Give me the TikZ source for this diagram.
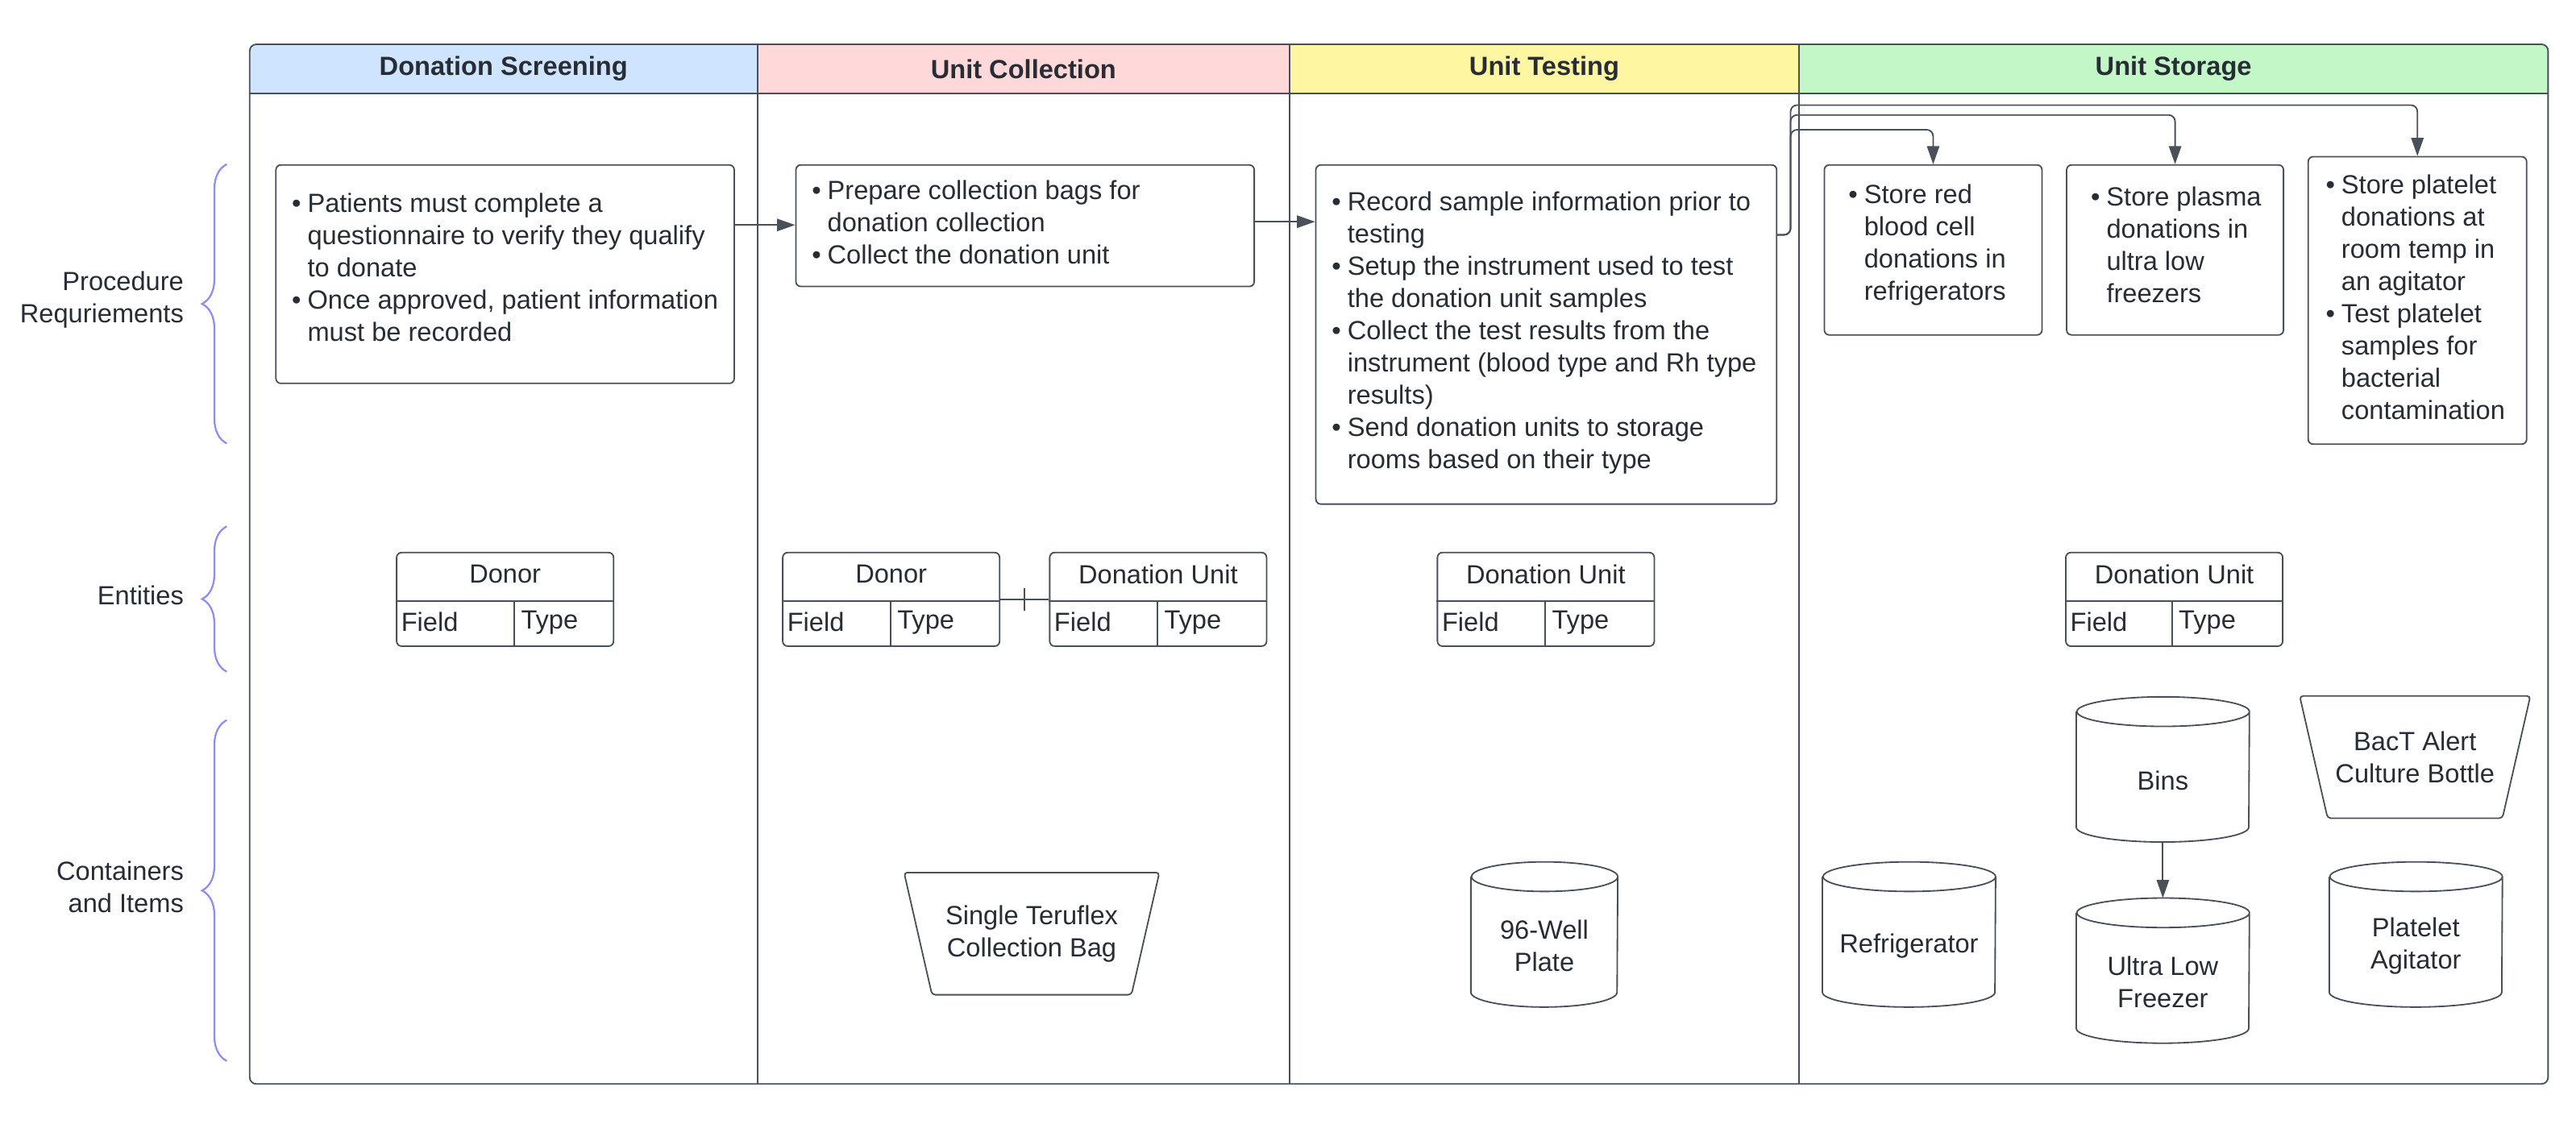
\documentclass[tikz,border=0pt]{standalone}
\usepackage{fontspec}
\setmainfont{Liberation Sans}
\usetikzlibrary{arrows.meta, decorations.pathreplacing}

\definecolor{ink}{HTML}{282D35}
\definecolor{edge}{HTML}{4A5059}
\definecolor{screenfill}{HTML}{CFE4FF}
\definecolor{collectfill}{HTML}{FFD9D9}
\definecolor{testfill}{HTML}{FFF6A1}
\definecolor{storefill}{HTML}{C3F7C8}
\definecolor{bracecol}{HTML}{8F8CF2}

\newcommand{\boxfont}{\fontsize{16}{19.6}\selectfont}
\newcommand{\bpt}{\makebox[9.5pt][l]{\textbullet}}
\newcommand{\bgap}{\hspace*{9.5pt}}

% entity table: name, top left, title, width of the field column
\newcommand{\entbox}[4]{%
  \node[entity] (#1) at (#2) {};
  \node[cell, anchor=center] (#1-title) at ([yshift=-13.5pt]#1.north) {#3};
  \draw[edgeline] ([yshift=28pt]#1.south west) -- ([yshift=28pt]#1.south east);
  \draw[edgeline] ([xshift=#4pt]#1.south west) -- ([xshift=#4pt, yshift=28pt]#1.south west);
  \node[cell] (#1-field) at ([xshift=3pt, yshift=15pt]#1.south west) {Field};
  \node[cell] (#1-type) at ([xshift=#4pt+4pt, yshift=15pt]#1.south west) {Type};
}
% cylinder: name, centre, width, text
\newcommand{\drumnode}[4]{%
  \node[drum, minimum width=#3pt] (#1) at (#2) {};
  \draw[edgeline] ([yshift=-9pt]#1.north west) -- ([yshift=9pt]#1.south west)
    arc[start angle=180, end angle=360, x radius=#3pt/2, y radius=9pt]
    -- ([yshift=-9pt]#1.north east)
    arc[start angle=0, end angle=360, x radius=#3pt/2, y radius=9pt];
  \node[drumlabel] (#1-label) at ([yshift=-7pt]#1.center) {#4};
}
% bag: name, centre, width, text
\newcommand{\bagnode}[4]{%
  \node[bag, minimum width=#3pt] (#1) at (#2) {#4};
  \draw[edgeline, rounded corners=2pt] (#1.north west) -- (#1.north east)
    -- ([xshift=-17pt]#1.south east) -- ([xshift=17pt]#1.south west) -- cycle;
}

\begin{document}
\begin{tikzpicture}[x=1pt, y=-1pt, >={Triangle[length=11pt, width=7.5pt]},
  every node/.style={font=\boxfont, text=ink},
  edgeline/.style={draw=edge, line width=0.9pt},
  flow/.style={edgeline, ->},
  lanehead/.style={minimum height=30pt, inner sep=0pt, font=\boxfont\bfseries},
  procbox/.style={edgeline, rounded corners=3pt, anchor=north west, inner sep=0pt},
  proctext/.style={anchor=west, align=left, inner sep=0pt, yshift=2pt},
  entity/.style={edgeline, rounded corners=3pt, anchor=north west, minimum width=132pt, minimum height=57pt, inner sep=0pt},
  cell/.style={anchor=west, inner sep=0pt},
  drum/.style={minimum height=88pt, inner sep=0pt},
  drumlabel/.style={align=center, inner sep=0pt},
  bag/.style={minimum height=74pt, inner sep=0pt, align=center},
  sidelabel/.style={anchor=east, align=right, inner sep=0pt},
  curly/.style={draw=bracecol, line width=1.1pt, decorate, decoration={brace, amplitude=15pt}}]
\useasboundingbox (0,0) rectangle (1568,684);

% Lanes
\begin{scope}
  \clip[rounded corners=4pt] (152,27) rectangle (1551,660);
  \node[lanehead, fill=screenfill, minimum width=309pt] (hscreen) at (306.5,42) {Donation Screening};
  \node[lanehead, fill=collectfill, minimum width=324pt] (hcollect) at (623,42) {Unit Collection};
  \node[lanehead, fill=testfill, minimum width=310pt] (htest) at (940,42) {Unit Testing};
  \node[lanehead, fill=storefill, minimum width=456pt] (hstore) at (1323,42) {Unit Storage};
\end{scope}
\draw[edgeline, rounded corners=4pt] (152,27) rectangle (1551,660);
\draw[edgeline] (152,57) -- (1551,57);
\foreach \x in {461,785,1095}
  \draw[edgeline] (\x,27) -- (\x,660);

% Row labels
\node[sidelabel] (lproc) at (112,182.5) {Procedure\\Requriements};
\node[sidelabel] (lent) at (112,362.5) {Entities};
\node[sidelabel] (lcont) at (112,540) {Containers\\and Items};
\draw[curly] (138,270) -- (138,100);
\draw[curly] (138,409) -- (138,320.5);
\draw[curly] (138,646) -- (138,438.5);

% Procedure requirements
\node[procbox, minimum width=279pt, minimum height=133pt] (scrbox) at (167.5,100) {};
\node[proctext, yshift=2pt] (scrtext) at ([xshift=10pt]scrbox.west) {\bpt Patients must complete a\\
  \bgap questionnaire to verify they qualify\\ \bgap to donate\\
  \bpt Once approved, patient information\\ \bgap must be recorded};
\node[procbox, minimum width=279pt, minimum height=74pt] (collbox) at (484,100) {};
\node[proctext] (colltext) at ([xshift=10pt]collbox.west) {\bpt Prepare collection bags for\\
  \bgap donation collection\\ \bpt Collect the donation unit};
\node[procbox, minimum width=280.5pt, minimum height=206.5pt] (testbox) at (800.5,100) {};
\node[proctext, yshift=-1pt] (testtext) at ([xshift=10pt]testbox.west) {\bpt Record sample information prior to\\
  \bgap testing\\ \bpt Setup the instrument used to test\\ \bgap the donation unit samples\\
  \bpt Collect the test results from the\\ \bgap instrument (blood type and Rh type\\
  \bgap results)\\ \bpt Send donation units to storage\\ \bgap rooms based on their type};
\node[procbox, minimum width=132.5pt, minimum height=103.5pt] (redbox) at (1110,100) {};
\node[proctext, yshift=1pt] (redtext) at ([xshift=15pt]redbox.west) {\bpt Store red\\ \bgap blood cell\\
  \bgap donations in\\ \bgap refrigerators};
\node[procbox, minimum width=132pt, minimum height=103.5pt] (plasmabox) at (1257.5,100) {};
\node[proctext, yshift=1pt] (plasmatext) at ([xshift=15pt]plasmabox.west) {\bpt Store plasma\\ \bgap donations in\\
  \bgap ultra low\\ \bgap freezers};
\node[procbox, minimum width=133pt, minimum height=175pt] (platebox) at (1404.5,95) {};
\node[proctext] (platetext) at ([xshift=11pt]platebox.west) {\bpt Store platelet\\ \bgap donations at\\
  \bgap room temp in\\ \bgap an agitator\\ \bpt Test platelet\\ \bgap samples for\\
  \bgap bacterial\\ \bgap contamination};

\draw[flow] ([yshift=-37pt]scrbox.north east) -- ([yshift=-37pt]collbox.north west);
\draw[flow] ([yshift=-35pt]collbox.north east) -- ([yshift=-35pt]testbox.north west);
\draw[flow, rounded corners=4pt] ([yshift=-43pt]testbox.north east) -- ++(8,0) |- ([yshift=21pt]redbox.north) -- (redbox.north);
\draw[flow, rounded corners=4pt] ([yshift=-43pt]testbox.north east) -- ++(8,0) |- ([yshift=30pt]plasmabox.north) -- (plasmabox.north);
\draw[flow, rounded corners=4pt] ([yshift=-43pt]testbox.north east) -- ++(8,0) |- ([yshift=31pt]platebox.north) -- (platebox.north);

% Entities
\entbox{sdonor}{241,336}{Donor}{72}
\entbox{cdonor}{476,336}{Donor}{66}
\entbox{cunit}{638.5,336}{Donation Unit}{66}
\entbox{tunit}{874.5,336}{Donation Unit}{66}
\entbox{sunit}{1257,336}{Donation Unit}{65}
\draw[edgeline] ([yshift=-29pt]cdonor.north east) -- coordinate[pos=0.5] (rel) ([yshift=-29pt]cunit.north west);
\draw[edgeline] ([yshift=7pt]rel) -- ([yshift=-7pt]rel);

% Containers and items
\bagnode{bag}{628,568.5}{155}{Single Teruflex\\Collection Bag}
\drumnode{plate}{940,569}{89}{96-Well\\Plate}
\drumnode{fridge}{1162,569}{105}{Refrigerator}
\drumnode{bins}{1316.5,468.5}{105}{Bins}
\drumnode{ulf}{1316.5,591}{105}{Ultra Low\\Freezer}
\drumnode{agitator}{1470.5,569}{105}{Platelet\\Agitator}
\bagnode{bottle}{1470,461}{140}{BacT Alert\\Culture Bottle}
\draw[flow] (bins.south) -- (ulf.north);
\end{tikzpicture}
\end{document}
